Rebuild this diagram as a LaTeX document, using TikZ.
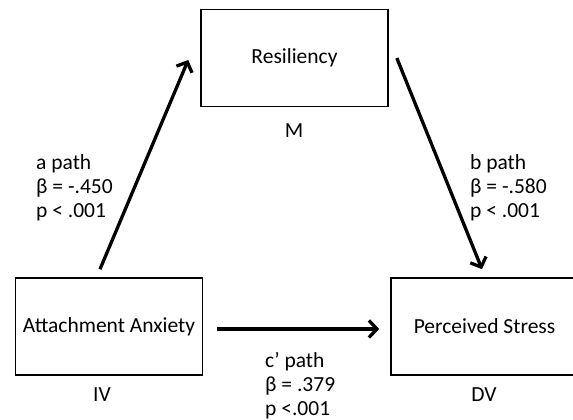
\documentclass[tikz,border=0pt]{standalone}
\usepackage{fontspec}
\setmainfont{Carlito}
\usepackage{tikz}
\usetikzlibrary{arrows.meta, calc}

\begin{document}
\begin{tikzpicture} [x=1pt, y=1pt, font=\fontsize{21.5}{24}\selectfont,
  box/.style={rectangle, draw, line width=1.6pt, minimum width=187pt, minimum height=97pt},
  stat/.style={align=left, anchor=north west, inner sep=0pt},
  path/.style={->, line width=3.3pt},
  >={Straight Barb[length=8pt, width=17pt]}]
\useasboundingbox (0, 0) rectangle (573, 420);
\path (294.5, 362) node[box] (res) {Resiliency}
      (109, 93.5) node[box] (anx) {Attachment Anxiety}
      (484.5, 93.5) node[box] (stress) {Perceived Stress}

      (294, 289) node (m) {M}
      (102, 25) node (iv) {IV}
      (484, 25) node (dv) {DV}

      (36, 266) node[stat] (apath) {a path\\β = -.450\\p < .001}
      (470, 266) node[stat] (bpath) {b path\\β = -.580\\p < .001}
      (265, 68) node[stat] (cpath) {c’ path\\β = .379\\p <.001};

\draw[path] ($(anx.north)+(-9, 8)$) to ($(res.west)+(-12, -2)$);
\draw[path] ($(res.east)+(8, 0)$) to ($(stress.north)+(-2.5, 8)$);
\draw[path] ($(anx.east)+(14, -2.5)$) to ($(stress.west)+(-11, -2.5)$);

\end{tikzpicture}
\end{document}
